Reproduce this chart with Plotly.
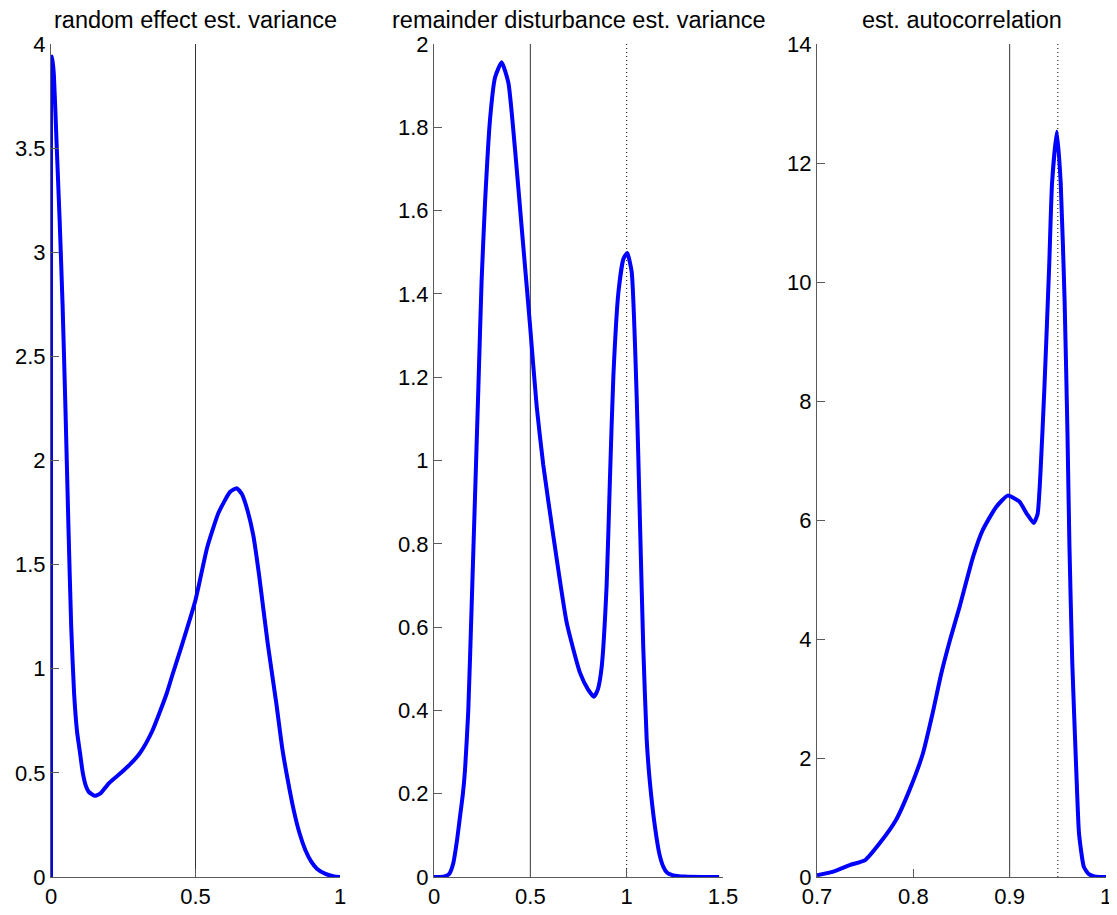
import plotly.graph_objects as go

# ---------------- data ----------------
titles = ["random effect est. variance",
          "remainder disturbance est. variance",
          "est. autocorrelation"]

# panel 1: random effect est. variance
x1 = [0.0, 0.0, 0.004, 0.01, 0.02, 0.03, 0.04, 0.05, 0.06, 0.07, 0.08, 0.09, 0.10, 0.11, 0.12,
      0.13, 0.15, 0.17, 0.20, 0.25, 0.28, 0.31, 0.35, 0.40, 0.42, 0.45, 0.50, 0.54, 0.58,
      0.62, 0.643, 0.66, 0.68, 0.70, 0.72, 0.75, 0.78, 0.80, 0.82, 0.84, 0.86, 0.88, 0.90,
      0.92, 0.95, 0.98, 1.0]
y1 = [0.0, 3.90, 3.94, 3.85, 3.50, 3.15, 2.75, 2.25, 1.70, 1.20, 0.88, 0.70, 0.60, 0.50, 0.44,
      0.41, 0.39, 0.40, 0.45, 0.51, 0.55, 0.60, 0.70, 0.88, 0.97, 1.10, 1.33, 1.58, 1.75,
      1.85, 1.867, 1.84, 1.76, 1.64, 1.45, 1.12, 0.83, 0.62, 0.46, 0.32, 0.21, 0.13, 0.075,
      0.04, 0.015, 0.003, 0.0]

# panel 2: remainder disturbance est. variance
x2 = [0.0, 0.03, 0.06, 0.08, 0.10, 0.12, 0.135, 0.15, 0.161, 0.178, 0.196, 0.213, 0.23,
      0.247, 0.265, 0.291, 0.317, 0.351, 0.386, 0.42, 0.455, 0.498, 0.533, 0.567, 0.619,
      0.689, 0.758, 0.80, 0.83, 0.85, 0.87, 0.896, 0.913, 0.931, 0.957, 0.983, 1.003,
      1.026, 1.052, 1.069, 1.086, 1.104, 1.12, 1.147, 1.17, 1.19, 1.21, 1.242, 1.30,
      1.40, 1.48]
y2 = [0.0, 0.0, 0.002, 0.008, 0.033, 0.09, 0.145, 0.20, 0.257, 0.40, 0.66, 0.915, 1.17,
      1.43, 1.62, 1.82, 1.92, 1.956, 1.907, 1.75, 1.56, 1.327, 1.13, 0.99, 0.82,
      0.61, 0.49, 0.45, 0.433, 0.45, 0.503, 0.70, 0.953, 1.203, 1.403, 1.484, 1.498,
      1.453, 1.153, 0.853, 0.553, 0.33, 0.23, 0.12, 0.055, 0.025, 0.01, 0.004, 0.001,
      0.0, 0.0]

# panel 3: est. autocorrelation
x3 = [0.70, 0.717, 0.734, 0.75, 0.765, 0.782, 0.796, 0.81, 0.82, 0.829, 0.838, 0.848,
      0.862, 0.872, 0.886, 0.898, 0.91, 0.918, 0.925, 0.929, 0.932, 0.936, 0.941, 0.944,
      0.949, 0.953, 0.957, 0.96, 0.962, 0.965, 0.969, 0.972, 0.977, 0.982, 0.986, 0.99,
      1.0]
y3 = [0.03, 0.09, 0.20, 0.285, 0.566, 0.958, 1.46, 2.08, 2.75, 3.42, 3.98, 4.54,
      5.38, 5.83, 6.22, 6.41, 6.31, 6.10, 5.95, 6.10, 6.80, 8.20, 10.26, 11.66,
      12.53, 11.66, 9.70, 7.46, 5.60, 3.60, 1.85, 0.73, 0.17, 0.05, 0.02, 0.005,
      0.0]

# reference lines (solid = true value, dotted = second value)
solid_lines = [0.5, 0.5, 0.9]
dotted_lines = [None, 1.0, 0.95]

x_ranges = [[0, 1], [0, 1.5], [0.7, 1.0]]
y_ranges = [[0, 4], [0, 2], [0, 14]]
x_tickvals = [[0, 0.5, 1], [0, 0.5, 1, 1.5], [0.7, 0.8, 0.9, 1.0]]
x_ticktext = [["0", "0.5", "1"], ["0", "0.5", "1", "1.5"], ["0.7", "0.8", "0.9", "1"]]
y_tickvals = [[0, 0.5, 1, 1.5, 2, 2.5, 3, 3.5, 4],
              [0, 0.2, 0.4, 0.6, 0.8, 1, 1.2, 1.4, 1.6, 1.8, 2],
              [0, 2, 4, 6, 8, 10, 12, 14]]
y_ticktext = [["0", "0.5", "1", "1.5", "2", "2.5", "3", "3.5", "4"],
              ["0", "0.2", "0.4", "0.6", "0.8", "1", "1.2", "1.4", "1.6", "1.8", "2"],
              ["0", "2", "4", "6", "8", "10", "12", "14"]]

# ---------------- figure ----------------
W, H = 1117, 915
OFF = 8  # page body margin offset
left_px = [51 - OFF, 434 - OFF, 817 - OFF]
plot_w = 289
top_px, bottom_px = 44 - OFF, 877 - OFF
domains = [[l / W, (l + plot_w) / W] for l in left_px]

fig = go.Figure()
xs = [x1, x2, x3]
ys = [y1, y2, y3]
FONT = "Liberation Sans, Arial, sans-serif"
axis_col = "#5a5a5a"

for i in range(3):
    xa = "x" if i == 0 else f"x{i+1}"
    ya = "y" if i == 0 else f"y{i+1}"
    y0, y1r = y_ranges[i]
    fig.add_trace(go.Scatter(x=[solid_lines[i], solid_lines[i]], y=[y0, y1r], mode="lines",
                             line=dict(color="#333333", width=1), xaxis=xa, yaxis=ya,
                             showlegend=False, hoverinfo="skip"))
    if dotted_lines[i] is not None:
        fig.add_trace(go.Scatter(x=[dotted_lines[i], dotted_lines[i]], y=[y0, y1r], mode="lines",
                                 line=dict(color="#000000", width=1, dash="1px,3px"),
                                 xaxis=xa, yaxis=ya, showlegend=False, hoverinfo="skip"))
    fig.add_trace(go.Scatter(x=xs[i], y=ys[i], mode="lines",
                             line=dict(color="#0000FF", width=4, shape="spline", smoothing=0.5),
                             xaxis=xa, yaxis=ya, showlegend=False))

    axcommon = dict(showline=True, linecolor=axis_col, linewidth=1, ticks="inside",
                    ticklen=8, tickcolor=axis_col, tickwidth=1, showgrid=False,
                    zeroline=False, tickfont=dict(family=FONT, size=22, color="black"),
                    automargin=False)
    fig.layout[f"xaxis{'' if i == 0 else i+1}"] = dict(
        domain=domains[i], range=x_ranges[i], anchor=ya, tickmode="array",
        tickvals=x_tickvals[i], ticktext=x_ticktext[i], **axcommon)
    fig.layout[f"yaxis{'' if i == 0 else i+1}"] = dict(
        domain=[0, 1], range=y_ranges[i], anchor=xa, tickmode="array",
        tickvals=y_tickvals[i], ticktext=y_ticktext[i], **axcommon)

    fig.add_annotation(text=titles[i], xref="paper", yref="paper",
                       x=(domains[i][0] + domains[i][1]) / 2, y=1,
                       xanchor="center", yanchor="bottom", yshift=10, showarrow=False,
                       borderpad=0,
                       font=dict(family=FONT, size=23.5, color="black"))

fig.update_layout(width=W, height=H, margin=dict(l=0, r=0, t=top_px, b=H - bottom_px),
                  paper_bgcolor="white", plot_bgcolor="white")

fig.write_html("out.html")
